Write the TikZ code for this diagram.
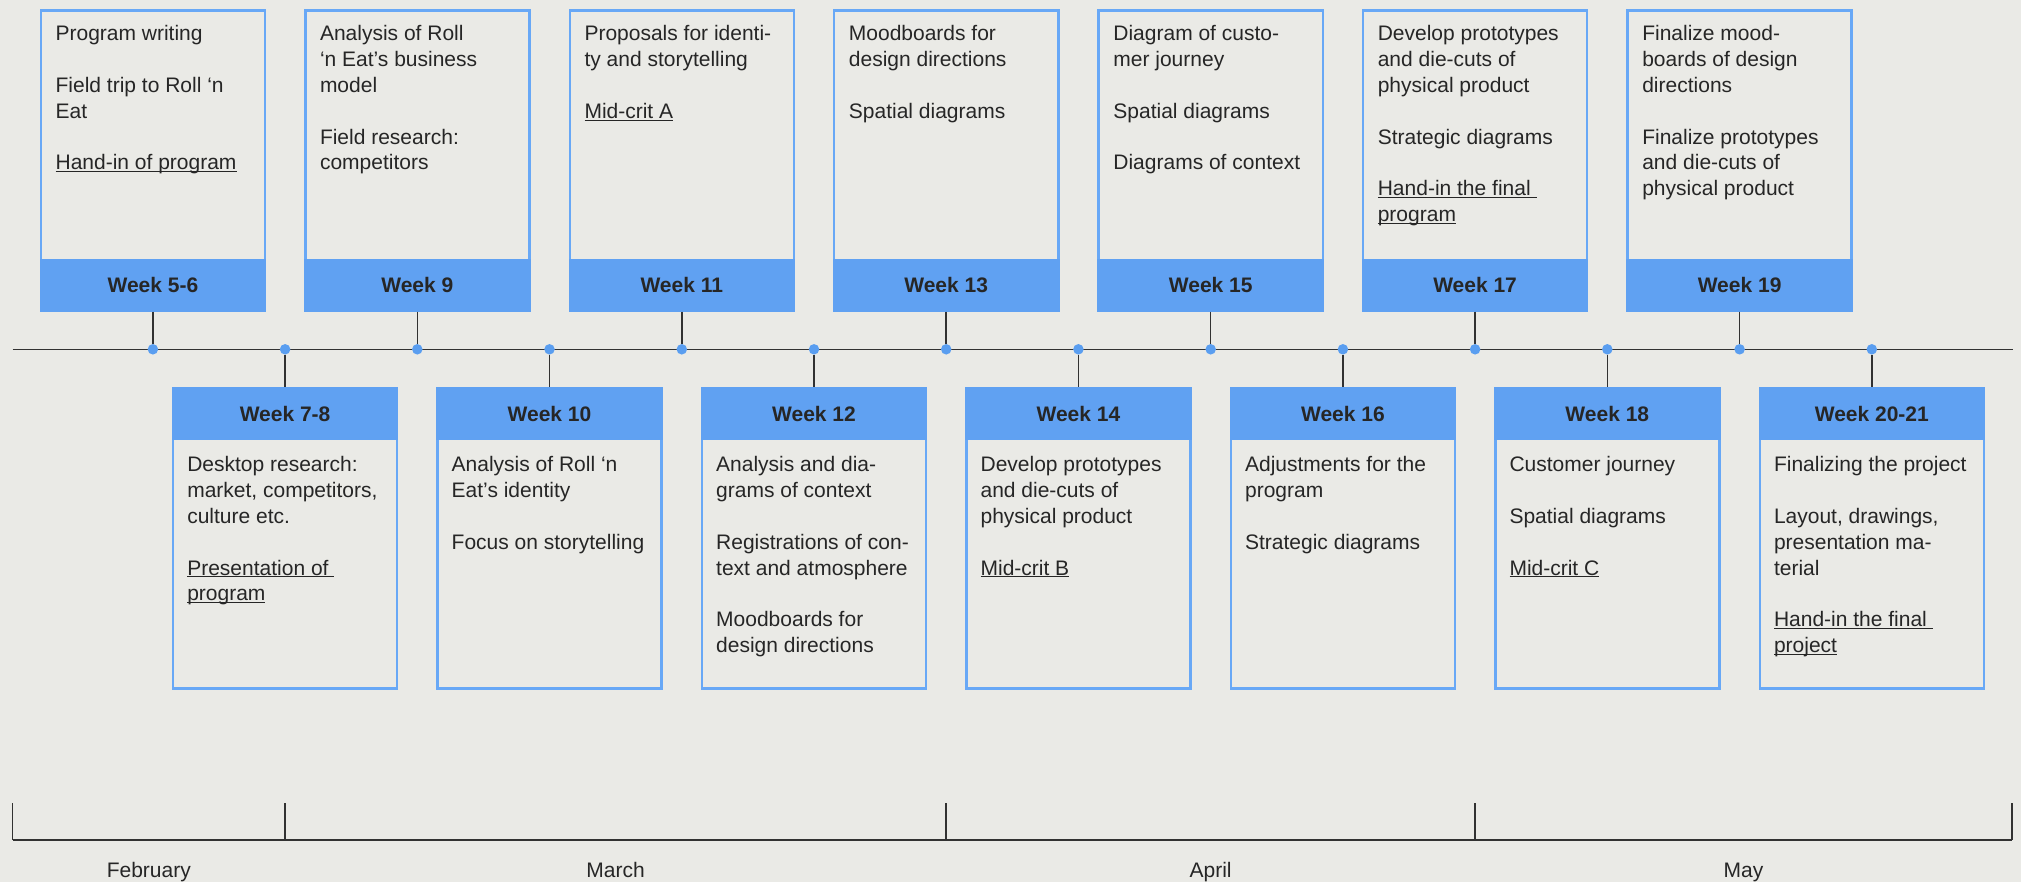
\documentclass[tikz,border=0pt]{standalone}
\usepackage{fontspec}
\setmainfont{Liberation Sans}
\definecolor{bg}{RGB}{234,234,230}
\definecolor{hblue}{RGB}{96,161,242}
\definecolor{boxline}{RGB}{104,168,246}
\definecolor{dotblue}{RGB}{90,158,240}
\definecolor{txt}{RGB}{38,38,38}
\definecolor{lne}{RGB}{50,50,50}
\newcommand{\ulx}[1]{\setbox0=\hbox{#1}\rlap{\rule[-2.4pt]{\wd0}{1pt}}\box0}
\tikzset{
  frame/.style={draw=boxline, line width=2.5pt, fill=bg, minimum width=224.1pt, minimum height=299.9pt, inner sep=0pt, outer sep=0pt},
  head/.style={fill=hblue, minimum width=226.6pt, minimum height=52.7pt, inner sep=0pt, outer sep=0pt, font=\fontsize{21}{25}\selectfont\bfseries, text=txt},
  bodytext/.style={align=left, inner sep=0pt, anchor=north west, font=\fontsize{21}{25.8}\selectfont, text=txt},
  dot/.style={circle, fill=dotblue, minimum size=10.5pt, inner sep=0pt, outer sep=0pt},
  conn/.style={draw=lne, line width=1.5pt},
  axis/.style={draw=lne, line width=1.6pt},
  month/.style={font=\fontsize{21}{25}\selectfont, text=txt, anchor=base, inner sep=0pt}
}
\newcommand{\topbox}[4]{%
  \node[frame] (#1) at (#2,160.5) {};
  \node[head] (#1h) at (#2,285.35) {#3};
  \node[bodytext] (#1t) at ({#2-97.5},22.6) {\strut #4};
  \node[dot] (#1d) at (#2,349.3) {};
  \draw[conn] (#1h) -- (#1d);
}
\newcommand{\botbox}[4]{%
  \node[frame] (#1) at (#2,538.5) {};
  \node[head] (#1h) at (#2,413.65) {#3};
  \node[bodytext] (#1t) at ({#2-98},453.6) {\strut #4};
  \node[dot] (#1d) at (#2,349.3) {};
  \draw[conn] (#1d) -- (#1h);
}
\begin{document}
\begin{tikzpicture}[x=1pt,y=-1pt]
\fill[bg] (0,0) rectangle (2021,882);
\useasboundingbox (0,0) rectangle (2021,882);
% timeline
\coordinate (tlA) at (12.5,349.3);
\coordinate (tlB) at (2012.5,349.3);
\draw[conn] (tlA) -- (tlB);
% top boxes
\topbox{w5}{152.9}{Week 5-6}{Program writing\\[25.8pt]Field trip to Roll ‘n\\Eat\\[25.8pt]\ulx{Hand-in of program}}
\topbox{w9}{417.3}{Week 9}{Analysis of Roll\\‘n Eat’s business\\model\\[25.8pt]Field research:\\competitors}
\topbox{w11}{681.8}{Week 11}{Proposals for identi-\\ty and storytelling\\[25.8pt]\ulx{Mid-crit A}}
\topbox{w13}{946.2}{Week 13}{Moodboards for\\design directions\\[25.8pt]Spatial diagrams}
\topbox{w15}{1210.7}{Week 15}{Diagram of custo-\\mer journey\\[25.8pt]Spatial diagrams\\[25.8pt]Diagrams of context}
\topbox{w17}{1475.1}{Week 17}{Develop prototypes\\and die-cuts of\\physical product\\[25.8pt]Strategic diagrams\\[25.8pt]\ulx{Hand-in the final\ }\\\ulx{program}}
\topbox{w19}{1739.6}{Week 19}{Finalize mood-\\boards of design\\directions\\[25.8pt]Finalize prototypes\\and die-cuts of\\physical product}
% bottom boxes
\botbox{w7}{285.1}{Week 7-8}{Desktop research:\\market, competitors,\\culture etc.\\[25.8pt]\ulx{Presentation of\ }\\\ulx{program}}
\botbox{w10}{549.5}{Week 10}{Analysis of Roll ‘n\\Eat’s identity\\[25.8pt]Focus on storytelling}
\botbox{w12}{814.0}{Week 12}{Analysis and dia-\\grams of context\\[25.8pt]Registrations of con-\\text and atmosphere\\[25.8pt]Moodboards for\\design directions}
\botbox{w14}{1078.4}{Week 14}{Develop prototypes\\and die-cuts of\\physical product\\[25.8pt]\ulx{Mid-crit B}}
\botbox{w16}{1342.9}{Week 16}{Adjustments for the\\program\\[25.8pt]Strategic diagrams}
\botbox{w18}{1607.3}{Week 18}{Customer journey\\[25.8pt]Spatial diagrams\\[25.8pt]\ulx{Mid-crit C}}
\botbox{w20}{1871.8}{Week 20-21}{Finalizing the project\\[25.8pt]Layout, drawings,\\presentation ma-\\terial\\[25.8pt]\ulx{Hand-in the final\ }\\\ulx{project}}
% month axis
\coordinate (m0) at (12.5,840);
\coordinate (m1) at (285.1,840);
\coordinate (m2) at (946.2,840);
\coordinate (m3) at (1475.1,840);
\coordinate (m4) at (2012,840);
\coordinate (t0) at (12.5,803);
\coordinate (t1) at (285.1,803);
\coordinate (t2) at (946.2,803);
\coordinate (t3) at (1475.1,803);
\coordinate (t4) at (2012,803);
\draw[axis] (m0) -- (m4);
\draw[axis] (t0) -- (m0);
\draw[axis] (t1) -- (m1);
\draw[axis] (t2) -- (m2);
\draw[axis] (t3) -- (m3);
\draw[axis] (t4) -- (m4);
\node[month] (feb) at (148.8,877) {February};
\node[month] (mar) at (615.6,877) {March};
\node[month] (apr) at (1210.6,877) {April};
\node[month] (may) at (1743.5,877) {May};
\end{tikzpicture}
\end{document}
